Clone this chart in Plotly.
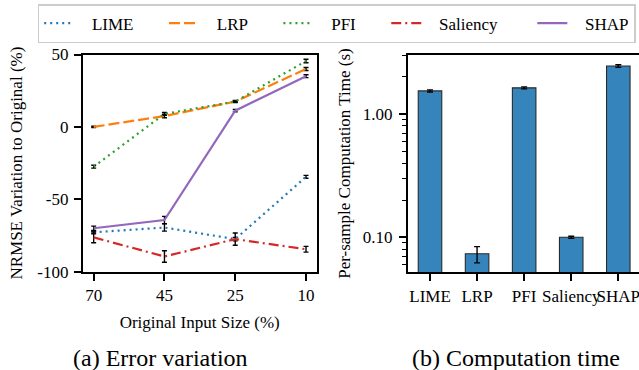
import plotly.graph_objects as go

# ---------------- data ----------------
input_sizes = ["70", "45", "25", "10"]
methods = ["LIME", "LRP", "PFI", "Saliency", "SHAP"]

lime_nrmse = [-72.8, -69.5, -77.5, -34.5]
lime_err = [1.0, 2.5, 1.2, 1.0]
lrp_nrmse = [0.0, 7.5, 17.5, 40.0]
lrp_err = [0.5, 1.2, 0.7, 1.0]
pfi_nrmse = [-27.5, 9.0, 17.5, 45.5]
pfi_err = [1.0, 1.0, 0.5, 1.2]
saliency_nrmse = [-76.3, -89.5, -77.5, -84.5]
saliency_err = [3.7, 4.0, 4.2, 2.0]
shap_nrmse = [-70.0, -64.3, 11.2, 35.0]
shap_err = [1.5, 2.5, 0.8, 1.0]

comp_time = [1.54, 0.0736, 1.63, 0.100, 2.45]
comp_err_plus = [0.03, 0.0104, 0.03, 0.002, 0.06]
comp_err_minus = [0.03, 0.0116, 0.03, 0.002, 0.06]

y_ticks_left = [-100, -50, 0, 50]
y_ticklabels_left = ["-100", "-50", "0", "50"]
y_ticks_right = [0.1, 1.0]
y_ticklabels_right = ["0.10", "1.00"]
y_minor_right = [0.06, 0.07, 0.08, 0.09, 0.2, 0.3, 0.4, 0.5, 0.6, 0.7, 0.8, 0.9, 2, 3]

# ---------------- style ----------------
FONT = "Liberation Serif"
series = [
    ("LIME", lime_nrmse, lime_err, "#1f77b4", "2px,4px", 6),
    ("LRP", lrp_nrmse, lrp_err, "#ff7f0e", "11px,4px", 6),
    ("PFI", pfi_nrmse, pfi_err, "#2ca02c", "2px,4px", 6),
    ("Saliency", saliency_nrmse, saliency_err, "#d62728", "10px,4px,2px,4px", 7),
    ("SHAP", shap_nrmse, shap_err, "#9467bd", "solid", 0),
]

NB = "\u00a0"
fig = go.Figure()
xpos = list(range(len(input_sizes)))
for name, vals, errs, color, dash, ntrail in series:
    fig.add_trace(go.Scatter(
        x=xpos, y=vals, mode="lines", name=NB * 3 + name + NB * ntrail,
        line=dict(color=color, width=2.2, dash=dash),
        error_y=dict(type="data", array=errs, visible=True, color="black",
                     thickness=1.4, width=2.5),
        xaxis="x", yaxis="y",
    ))

fig.add_trace(go.Bar(
    x=list(range(len(methods))), y=comp_time, width=0.5,
    marker=dict(color="rgba(31,119,180,0.9)", line=dict(color="#2a2a2a", width=1.1)),
    error_y=dict(type="data", array=comp_err_plus, arrayminus=comp_err_minus,
                 visible=True, color="black", thickness=1.4, width=3),
    showlegend=False, xaxis="x2", yaxis="y2",
))

H = 370.0
W = 639.0
axis_common = dict(showline=True, linecolor="black", linewidth=1.8, ticks="outside",
                   ticklen=7, tickwidth=1.5, tickcolor="black", showgrid=False,
                   zeroline=False, automargin=False, ticklabeloverflow="allow",
                   tickfont=dict(family=FONT, size=17, color="black"))

fig.update_layout(
    width=639, height=370, margin=dict(l=0, r=0, t=0, b=0, autoexpand=False),
    plot_bgcolor="white", paper_bgcolor="white",
    font=dict(family=FONT, size=17, color="black"),
    xaxis=dict(domain=[82.7 / W, 316.7 / W], range=[-0.155, 3.151],
               tickmode="array", tickvals=xpos, ticktext=input_sizes,
               mirror=True, anchor="y", tickangle=0,
               title=dict(text="Original Input Size (%)", font=dict(family=FONT, size=17), standoff=12),
               **axis_common),
    yaxis=dict(domain=[1 - 271.7 / H, 1 - 54.5 / H], range=[-100, 50],
               tickmode="array", tickvals=y_ticks_left, ticktext=y_ticklabels_left,
               mirror=True, anchor="x", ticklabelstandoff=2,
               title=dict(text="NRMSE Variation to Original (%)", font=dict(family=FONT, size=17), standoff=10),
               **axis_common),
    xaxis2=dict(domain=[407.7 / W, 1.0], range=[-0.474, 4.44],
                tickmode="array", tickvals=list(range(len(methods))), ticktext=methods,
                mirror=True, anchor="y2", tickangle=0, **axis_common),
    yaxis2=dict(domain=[1 - 272.3 / H, 1 - 54.7 / H], type="log", range=[-1.284, 0.481],
                tickmode="array", tickvals=y_ticks_right, ticktext=y_ticklabels_right,
                mirror=False, anchor="x2", ticklabelstandoff=3,
                minor=dict(tickmode="array", tickvals=y_minor_right, ticks="outside",
                           ticklen=4, tickwidth=1.1, tickcolor="black", showgrid=False),
                title=dict(text="Per-sample Computation Time (s)", font=dict(family=FONT, size=17), standoff=8),
                **axis_common),
    legend=dict(orientation="h", x=37.7 / W, xanchor="left", y=1 - 4 / H, yanchor="top",
                bordercolor="#cccccc", borderwidth=1.5, bgcolor="white",
                font=dict(family=FONT, size=17, color="black"),
                itemwidth=30, tracegroupgap=0),
    annotations=[
        dict(text="(a) Error variation", x=160 / W, y=1 - 358 / H, xref="paper", yref="paper",
             xanchor="center", yanchor="middle",
             showarrow=False, font=dict(family=FONT, size=24, color="black")),
        dict(text="(b) Computation time", x=516 / W, y=1 - 358 / H, xref="paper", yref="paper",
             xanchor="center", yanchor="middle",
             showarrow=False, font=dict(family=FONT, size=24, color="black")),
    ],
)

fig.write_html("out.html", config={"displayModeBar": False},
               post_script="document.body.style.margin='0';")
